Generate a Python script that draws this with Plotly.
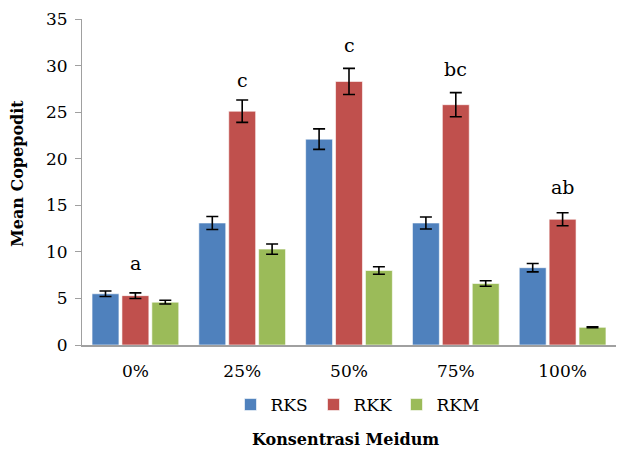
import plotly.graph_objects as go

categories = ["0%", "25%", "50%", "75%", "100%"]
rks = [5.5, 13.1, 22.1, 13.1, 8.3]
rks_err = [0.3, 0.7, 1.1, 0.65, 0.45]
rkk = [5.3, 25.1, 28.3, 25.8, 13.5]
rkk_err = [0.3, 1.2, 1.4, 1.3, 0.7]
rkm = [4.6, 10.3, 8.0, 6.6, 1.9]
rkm_err = [0.2, 0.55, 0.4, 0.3, 0.05]
letters = ["a", "c", "c", "bc", "ab"]
letter_y = [8.8, 28.5, 32.2, 29.6, 17.0]

FONT = "DejaVu Serif"
L, R, T, B = 82, 2, 19, 110
W, H = 618, 455
PW, PH = W - L - R, H - T - B

fig = go.Figure()
for name, vals, errs, color in [
    ("RKS", rks, rks_err, "#4F81BD"),
    ("RKK", rkk, rkk_err, "#C0504D"),
    ("RKM", rkm, rkm_err, "#9BBB59"),
]:
    fig.add_trace(go.Bar(
        name=name, x=categories, y=vals,
        marker=dict(color=color, line=dict(color="rgba(255,255,255,0.6)", width=1)),
        error_y=dict(type="data", array=errs, visible=True, color="black",
                     thickness=1.6, width=6),
    ))

for c, t, yv in zip(categories, letters, letter_y):
    fig.add_annotation(x=c, y=yv, xref="x", yref="y", text=t, showarrow=False,
                       font=dict(family=FONT, size=19, color="black"))

# axis titles
fig.add_annotation(x=(345 - L) / PW, y=(T + PH - 440) / PH, xref="paper", yref="paper",
                   text="<b>Konsentrasi Meidum</b>", showarrow=False, xanchor="center",
                   yanchor="middle", font=dict(family=FONT, size=16, color="black"))
fig.add_annotation(x=(17 - L) / PW, y=(T + PH - 174) / PH, xref="paper", yref="paper",
                   text="<b>Mean Copepodit</b>", showarrow=False, textangle=-90,
                   xanchor="center", yanchor="middle",
                   font=dict(family=FONT, size=16, color="black"))

fig.update_layout(
    width=W, height=H,
    margin=dict(l=L, r=R, t=T, b=B, autoexpand=False),
    paper_bgcolor="white", plot_bgcolor="white",
    barmode="group", bargap=0.16, bargroupgap=0.1,
    font=dict(family=FONT, size=17, color="black"),
    showlegend=True,
    legend=dict(orientation="h", x=(355 - L) / PW, xanchor="center", y=(T + PH - 405) / PH,
                yanchor="middle", font=dict(family=FONT, size=17),
                itemwidth=30, traceorder="normal", entrywidth=38, entrywidthmode="pixels"),
    xaxis=dict(showline=True, linecolor="#A0A0A0", linewidth=2, ticks="",
               tickfont=dict(family=FONT, size=17), automargin=False,
               ticklabelstandoff=10),
    yaxis=dict(range=[0, 35], dtick=5, showline=True, linecolor="#A0A0A0", linewidth=1,
               ticks="outside", ticklen=6, tickcolor="#A0A0A0", showgrid=False,
               zeroline=False, tickfont=dict(family=FONT, size=17), automargin=False,
               ticklabelstandoff=4),
)

fig.write_html("out.html", config={"displayModeBar": False},
               post_script="document.body.style.margin='0';document.body.style.overflow='hidden';")
